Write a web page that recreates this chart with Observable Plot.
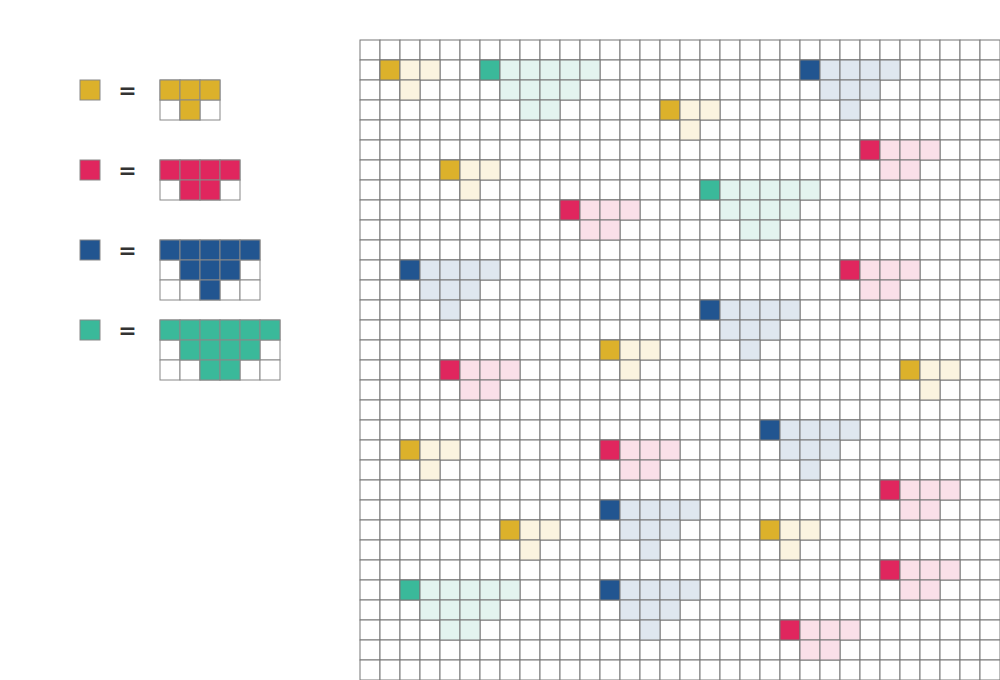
<!DOCTYPE html>
<html><head><meta charset="utf-8">
<script src="https://cdn.jsdelivr.net/npm/d3@7"></script>
<script src="https://cdn.jsdelivr.net/npm/@observablehq/plot@0.6"></script>
<style>body{margin:0;background:#fff}</style>
</head><body><div id="chart"></div>
<script>
// shape definitions: rows of filled column offsets
const shapeNames = ["yellow", "pink", "blue", "green"];
const shapeRows = {
  yellow: [[0, 1, 2], [1]],
  pink: [[0, 1, 2, 3], [1, 2]],
  blue: [[0, 1, 2, 3, 4], [1, 2, 3], [2]],
  green: [[0, 1, 2, 3, 4, 5], [1, 2, 3, 4], [2, 3]]
};
const shapeWidths = {yellow: 3, pink: 4, blue: 5, green: 6};
const strong = {yellow: "#dcb12b", pink: "#e0265e", blue: "#215590", green: "#3ab99a"};
const light = {yellow: "#fbf4e0", pink: "#fae0e8", blue: "#dfe7ef", green: "#e3f4ef"};

// placements on the 32x32 board: shape, anchor column, anchor row
const placeShape = ["yellow","green","blue","yellow","pink","yellow","green","pink","blue","pink","blue","yellow","pink","yellow","blue","yellow","pink","pink","blue","yellow","yellow","pink","green","blue","pink"];
const placeCol =   [1, 6, 22, 15, 25, 4, 17, 10, 2, 24, 17, 12, 4, 27, 20, 2, 12, 26, 12, 7, 20, 26, 2, 12, 21];
const placeRow =   [1, 1, 1, 3, 5, 6, 7, 8, 11, 11, 13, 15, 16, 16, 19, 20, 20, 22, 23, 24, 24, 26, 27, 27, 29];

const N = 32;
const board = [];
for (let r = 0; r < N; r++) for (let c = 0; c < N; r, c++) board.push({c, r});

const pieces = [];
placeShape.forEach((s, i) => {
  shapeRows[s].forEach((cols, dr) => cols.forEach(dc => {
    pieces.push({c: placeCol[i] + dc, r: placeRow[i] + dr, fill: (dr === 0 && dc === 0) ? strong[s] : light[s]});
  }));
});

// legend: swatch, "=", shape on a small grid
const legendRow = [2, 6, 10, 14];
const legendGrid = [], legendCells = [], swatches = [];
shapeNames.forEach((s, i) => {
  const y0 = legendRow[i];
  swatches.push({c: -14, r: y0, fill: strong[s]});
  shapeRows[s].forEach((cols, dr) => {
    for (let dc = 0; dc < shapeWidths[s]; dc++) legendGrid.push({c: -10 + dc, r: y0 + dr});
    cols.forEach(dc => legendCells.push({c: -10 + dc, r: y0 + dr, fill: strong[s]}));
  });
});

const rect = (data, opts) => Plot.rect(data, {x1: "c", x2: d => d.c + 1, y1: "r", y2: d => d.r + 1, ...opts});

const chart = Plot.plot({
  width: 1000, height: 680, margin: 0,
  x: {domain: [-18, 32], range: [0, 1000], axis: null},
  y: {domain: [-2, 32], range: [0, 680], axis: null},
  marks: [
    rect(board, {fill: "white", stroke: "#777", strokeWidth: 1}),
    rect(pieces, {fill: "fill", stroke: "#777", strokeWidth: 1}),
    rect(legendGrid, {fill: "white", stroke: "#888", strokeWidth: 1}),
    rect(legendCells, {fill: "fill", stroke: "#888", strokeWidth: 1}),
    rect(swatches, {fill: "fill", stroke: "#888", strokeWidth: 1}),
    Plot.text(swatches, {x: -11.65, y: d => d.r + 0.5, text: () => "=", fontSize: 22, fontWeight: "bold", fill: "#333", fontFamily: "DejaVu Sans"})
  ]
});
document.getElementById("chart").append(chart);
</script>
</body></html>
